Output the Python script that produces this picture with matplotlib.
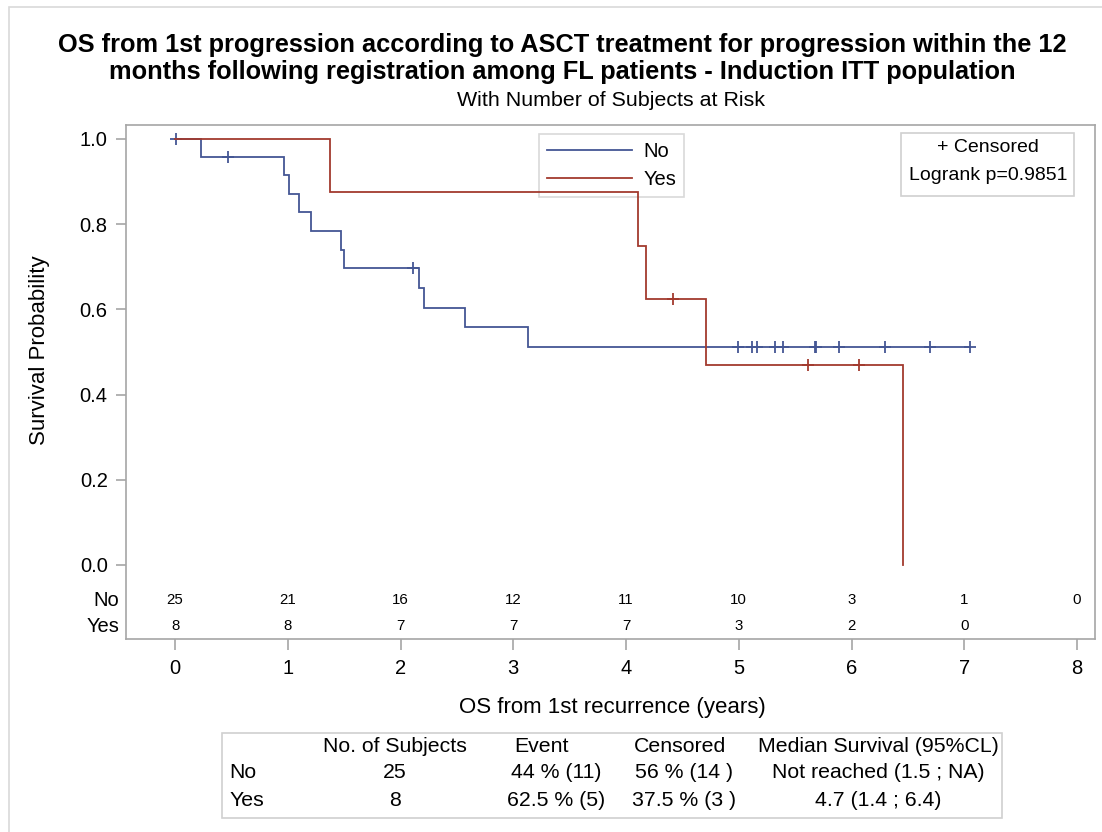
import numpy as np
import matplotlib
matplotlib.use('Agg')
import matplotlib.pyplot as plt
from matplotlib.patches import Rectangle
from matplotlib.lines import Line2D

plt.rcParams['font.family'] = ['Liberation Sans', 'DejaVu Sans']

# ---------------- data ----------------
groups = ['No', 'Yes']
no_times = [0.01, 0.23, 0.47, 0.967, 1.008, 1.10, 1.21, 1.47, 1.50, 2.11, 2.16, 2.21,
            2.575, 3.128, 4.99, 5.12, 5.165, 5.32, 5.395, 5.672, 5.688, 5.89, 6.30, 6.70, 7.05]
no_events = [0, 1, 0, 1, 1, 1, 1, 1, 1, 0, 1, 1, 1, 1, 0, 0, 0, 0, 0, 0, 0, 0, 0, 0, 0]
yes_times = [1.378, 4.107, 4.175, 4.42, 4.71, 5.61, 6.07, 6.46]
yes_events = [1, 1, 1, 0, 1, 0, 0, 1]

risk_times = [0, 1, 2, 3, 4, 5, 6, 7, 8]
risk_no = [25, 21, 16, 12, 11, 10, 3, 1, 0]
risk_yes = [8, 8, 7, 7, 7, 3, 2, 0]

xticks = [0, 1, 2, 3, 4, 5, 6, 7, 8]
yticks = [0.0, 0.2, 0.4, 0.6, 0.8, 1.0]

title_lines = ["OS from 1st progression according to ASCT treatment for progression within the 12",
               "months following registration among FL patients - Induction ITT population"]
subtitle = "With Number of Subjects at Risk"
xlabel = "OS from 1st recurrence (years)"
ylabel = "Survival Probability"
logrank_text = "Logrank p=0.9851"

table_header = ["No. of Subjects", "Event", "Censored", "Median Survival (95%CL)"]
table_rows = [["No", "25", "44 % (11)", "56 % (14 )", "Not reached (1.5 ; NA)"],
              ["Yes", "8", "62.5 % (5)", "37.5 % (3 )", "4.7 (1.4 ; 6.4)"]]

colors = ['#445694', '#A23A2E']


def km(times, events):
    t = np.asarray(times, float)
    e = np.asarray(events, int)
    order = np.argsort(t, kind='stable')
    t, e = t[order], e[order]
    n = len(t)
    s = 1.0
    xs, ys = [0.0], [1.0]
    cens_x, cens_y = [], []
    i = 0
    while i < n:
        ti = t[i]
        j = i
        while j < n and t[j] == ti:
            j += 1
        d = e[i:j].sum()
        at_risk = n - i
        if d > 0:
            s = s * (1 - d / at_risk)
            xs.append(ti)
            ys.append(s)
        for k in range(i, j):
            if e[k] == 0:
                cens_x.append(ti)
                cens_y.append(s)
        i = j
    if xs[-1] < t[-1]:
        xs.append(t[-1])
        ys.append(s)
    return xs, ys, cens_x, cens_y


W, H = 1102, 832
fig = plt.figure(figsize=(W / 100, H / 100), dpi=100)


def fx(px):
    return px / W


def fy(py):
    return 1 - py / H


# outer border (only top/left visible)
fig.patches.append(Rectangle((fx(9), fy(900)), fx(1200), fy(7) - fy(900), transform=fig.transFigure,
                             fill=False, edgecolor='#d9d9d9', linewidth=1.2))

ax_l, ax_r, ax_t, ax_b = 126, 1095, 125, 639
ax = fig.add_axes([fx(ax_l), fy(ax_b), fx(ax_r - ax_l), fy(ax_t) - fy(ax_b)])

x0px, x8px = 175, 1077
ppx = (x8px - x0px) / 8.0
y1px, y0px = 139, 565
ppy = (y0px - y1px)
ax.set_xlim(-(x0px - ax_l) / ppx, 8 + (ax_r - x8px) / ppx)
ax.set_ylim(-(ax_b - y0px) / ppy, 1 + (y1px - ax_t) / ppy)

for spine in ax.spines.values():
    spine.set_color('#a6a6a6')
    spine.set_linewidth(1.2)

ax.set_xticks(xticks)
ax.set_xticklabels([str(v) for v in xticks])
ax.set_yticks(yticks)
ax.set_yticklabels([f"{v:.1f}" for v in yticks])
ax.tick_params(axis='both', colors='#a6a6a6', labelcolor='#000000', labelsize=14.5,
               direction='out', width=1.2)
ax.tick_params(axis='y', length=7.2, pad=6)
ax.tick_params(axis='x', length=8, pad=6.5)

for (times, events), col in zip([(no_times, no_events), (yes_times, yes_events)], colors):
    xs, ys, cx, cy = km(times, events)
    ax.step(xs, ys, where='post', color=col, linewidth=1.3, solid_joinstyle='miter', zorder=3)
    ax.plot(cx, cy, linestyle='none', marker='+', markersize=9, markeredgewidth=1.3, color=col,
            zorder=3)

# at-risk table inside the axes
tr = ax.get_xaxis_transform()
row_y = [(ax_b - 600) / (ax_b - ax_t), (ax_b - 626) / (ax_b - ax_t)]
for vals, yy in zip([risk_no, risk_yes], row_y):
    for t, v in zip(risk_times, vals):
        ax.text(t, yy, str(v), transform=tr, ha='center', va='center', fontsize=10.8)
for g, ypx in zip(groups, [600, 626]):
    fig.text(fx(119), fy(ypx), g, ha='right', va='center', fontsize=14.5)

# legend (transparent face so curves stay visible)
handles = [Line2D([], [], color=c, linewidth=1.3) for c in colors]
leg = ax.legend(handles, groups, loc='upper left',
                bbox_to_anchor=((539 - ax_l) / (ax_r - ax_l), (ax_b - 134) / (ax_b - ax_t)),
                frameon=True, fancybox=False, edgecolor='#d0d0d0', fontsize=14.5,
                handlelength=4.2, handletextpad=0.55, borderpad=0.42, labelspacing=0.42,
                borderaxespad=0)
leg.get_frame().set_linewidth(1.2)
leg.get_frame().set_facecolor('none')
leg.set_zorder(2)

# censored/logrank box
ax.add_patch(Rectangle(((901 - ax_l) / (ax_r - ax_l), (ax_b - 196) / (ax_b - ax_t)),
                       (1074 - 901) / (ax_r - ax_l), (196 - 133) / (ax_b - ax_t),
                       transform=ax.transAxes, fill=False, edgecolor='#d0d0d0', linewidth=1.2))
fig.text(fx(988), fy(148), "+ Censored", ha='center', va='center', fontsize=14)
fig.text(fx(988), fy(176), logrank_text, ha='center', va='center', fontsize=14)

# titles
for line, ypx in zip(title_lines, [45, 72]):
    fig.text(fx(562), fy(ypx), line, ha='center', va='center', fontsize=18.3, fontweight='bold')
fig.text(fx(611), fy(100), subtitle, ha='center', va='center', fontsize=15.4)
fig.text(fx(612), fy(708), xlabel, ha='center', va='center', fontsize=16)
fig.text(fx(40), fy(350), ylabel, ha='center', va='center', rotation=90, fontsize=16)

# summary table
fig.patches.append(Rectangle((fx(222), fy(818)), fx(1002 - 222), fy(733) - fy(818),
                             transform=fig.transFigure, fill=False, edgecolor='#d0d0d0',
                             linewidth=1.2))
col_x = [395, 541, 680, 878]
for cx_, h in zip(col_x, table_header):
    fig.text(fx(cx_), fy(747), h, ha='center', va='center', fontsize=15.3)
val_x = [395, 556, 684, 878]
for row, ypx in zip(table_rows, [773, 800]):
    fig.text(fx(229), fy(ypx), row[0], ha='left', va='center', fontsize=15.3)
    for cx_, v in zip(val_x, row[1:]):
        fig.text(fx(cx_), fy(ypx), v, ha='center', va='center', fontsize=15.3)

fig.savefig('out.png', dpi=100)
